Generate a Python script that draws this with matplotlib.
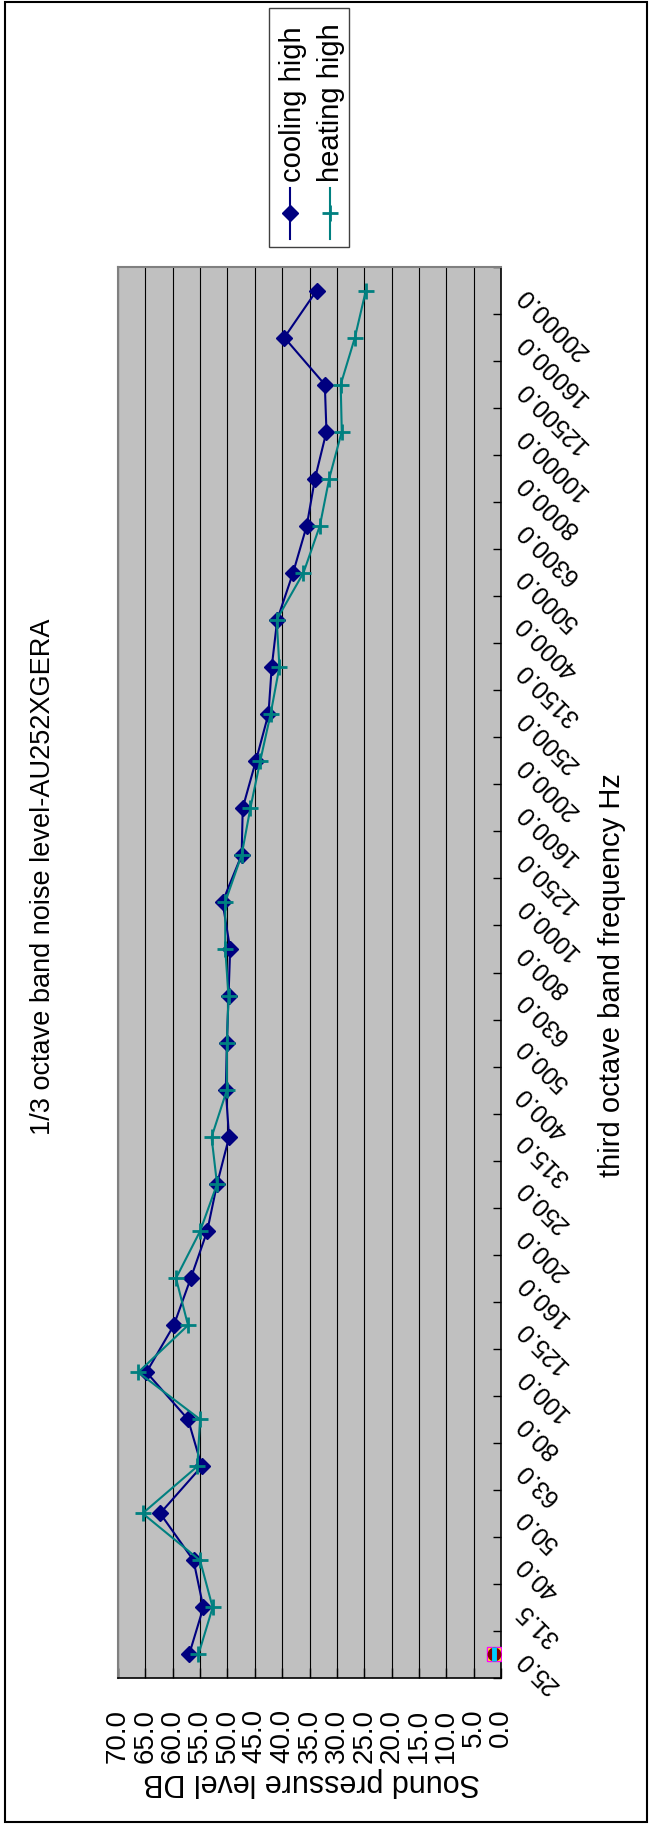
import numpy as np
import matplotlib.pyplot as plt
from matplotlib.lines import Line2D
from matplotlib.patches import Rectangle

plt.rcParams['font.family'] = ['Liberation Sans', 'DejaVu Sans']

# third octave bands (Hz)
bands = ['25.0', '31.5', '40.0', '50.0', '63.0', '80.0', '100.0', '125.0', '160.0', '200.0',
         '250.0', '315.0', '400.0', '500.0', '630.0', '800.0', '1000.0', '1250.0', '1600.0',
         '2000.0', '2500.0', '3150.0', '4000.0', '5000.0', '6300.0', '8000.0', '10000.0',
         '12500.0', '16000.0', '20000.0']

# sound pressure level dB
cooling_high = [57.0, 54.4, 56.2, 62.3, 54.7, 57.2, 64.8, 59.8, 56.7, 53.7,
                51.9, 49.7, 50.3, 50.1, 49.8, 49.5, 50.9, 47.4, 47.2, 44.8,
                42.5, 41.9, 40.9, 38.0, 35.5, 34.0, 31.9, 32.2, 39.6, 33.7]
heating_high = [55.3, 52.7, 55.0, 65.5, 55.5, 55.0, 66.3, 57.2, 59.4, 55.0,
                51.9, 52.9, 50.1, 50.1, 49.8, 50.4, 50.4, 47.4, 45.8, 44.0,
                42.1, 40.5, 41.0, 36.1, 33.1, 31.4, 29.1, 29.3, 26.7, 24.7]
# empty series, only a first point is drawn
other_first = [1.2, 1.2, 1.2]

value_ticks = np.arange(0, 75, 5)

W, H = 650, 1825


def fx(x):
    return x / W


def fy(y):
    return 1 - y / H


fig = plt.figure(figsize=(6.5, 18.25), dpi=100)
ax = fig.add_axes([fx(118), fy(1678), fx(501) - fx(118), fy(267) - fy(1678)])
ax.set_facecolor('#C0C0C0')

pos = np.arange(len(bands))
ax.plot(cooling_high, pos, color='#000080', lw=1.5, marker='D', ms=8, zorder=3)
ax.plot(heating_high, pos, color='#008080', lw=1.5, marker='+', ms=11, mew=2, zorder=4)

ax.plot(other_first[0], pos[0], marker='s', ms=10, color='#FFFF00', mec='#FF00FF', zorder=5)
ax.plot(other_first[1], pos[0], marker='o', ms=9, color='#800000', mec='#800000', zorder=6)
ax.plot(other_first[2], pos[0], marker='|', ms=10, mew=3.5, color='#00CCFF', zorder=7)

ax.set_xlim(70, 0)
ax.set_ylim(-0.5, len(bands) - 0.5)

ax.set_xticks(value_ticks)
ax.set_xticklabels([f'{v:.1f}' for v in value_ticks])
ax.tick_params(axis='x', direction='in', length=7, width=1, pad=22, labelsize=20,
               labelrotation=90)
ax.grid(axis='x', color='black', lw=0.8)
ax.set_axisbelow(True)

ax.yaxis.tick_right()
ax.set_yticks(np.arange(len(bands) + 1) - 0.5)
ax.set_yticklabels([])
ax.set_yticks(pos, minor=True)
ax.set_yticklabels(bands, minor=True, rotation=135, rotation_mode='anchor',
                   ha='right', va='center', fontsize=18)
ax.tick_params(axis='y', which='major', direction='in', length=6, width=1)
ax.tick_params(axis='y', which='minor', length=0, pad=14)

for s in ['top', 'left']:
    ax.spines[s].set_color('#808080')
    ax.spines[s].set_linewidth(1.5)
for s in ['bottom', 'right']:
    ax.spines[s].set_color('black')
    ax.spines[s].set_linewidth(1.2)

fig.text(fx(43), fy(877), '1/3 octave band noise level-AU252XGERA', rotation=90,
         ha='center', va='center', fontsize=19.5)
fig.text(fx(612), fy(975), 'third octave band frequency Hz', rotation=90,
         ha='center', va='center', fontsize=21)
fig.text(fx(312), fy(1782), 'Sound pressure level DB', rotation=180,
         ha='center', va='center', fontsize=22)

# legend, drawn turned like the rest of the chart
fig.patches.append(Rectangle((fx(269), fy(247)), fx(349) - fx(269), fy(8) - fy(247),
                             transform=fig.transFigure, fc='white', ec='#404040', lw=1))
fig.lines.append(Line2D([fx(290)] * 2, [fy(188), fy(239)], color='#000080', lw=1.5,
                        transform=fig.transFigure))
fig.lines.append(Line2D([fx(290)], [fy(213)], color='#000080', marker='D', ms=8,
                        transform=fig.transFigure))
fig.lines.append(Line2D([fx(330)] * 2, [fy(188), fy(239)], color='#008080', lw=1.5,
                        transform=fig.transFigure))
fig.lines.append(Line2D([fx(330)], [fy(213)], color='#008080', marker='+', ms=11, mew=2,
                        transform=fig.transFigure))
fig.text(fx(293), fy(182), 'cooling high', rotation=90, ha='center', va='bottom', fontsize=21)
fig.text(fx(331), fy(182), 'heating high', rotation=90, ha='center', va='bottom', fontsize=21)

# chart border
fig.patches.append(Rectangle((fx(5), fy(1822)), fx(647) - fx(5), fy(2) - fy(1822),
                             transform=fig.transFigure, fill=False, ec='black', lw=1.5))

fig.savefig('out.png', dpi=100)
